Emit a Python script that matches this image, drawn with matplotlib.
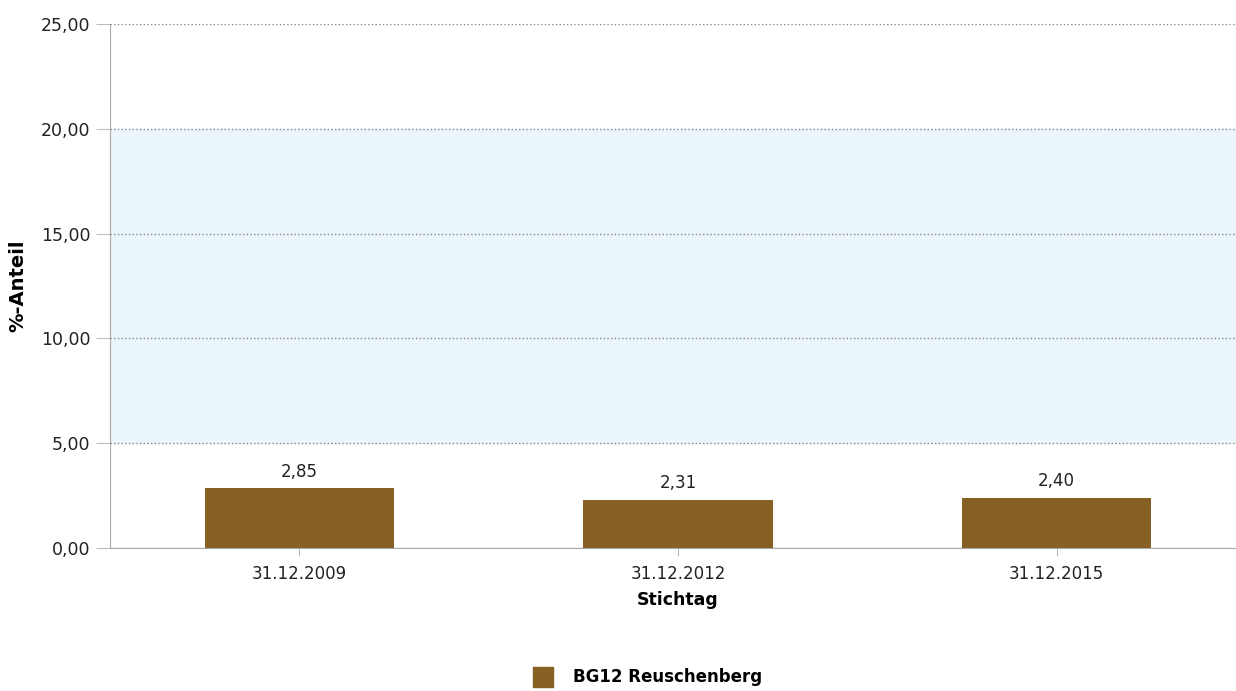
import matplotlib.pyplot as plt
from matplotlib.patches import Patch

dates = ['31.12.2009', '31.12.2012', '31.12.2015']
werte = [2.85, 2.31, 2.40]
y_ticks = [0, 5, 10, 15, 20, 25]
series = 'BG12 Reuschenberg'

bar_color = '#876024'
band_color = '#eaf6fb'

fig = plt.figure(figsize=(12.36, 6.91), dpi=100)
ax = fig.add_axes([110 / 1236, 1 - 548 / 691, 1136 / 1236, 524 / 691])

x = range(len(dates))
ax.axhspan(5, 20, color=band_color, zorder=0)
bars = ax.bar(x, werte, width=0.5, color=bar_color, zorder=3)
for xi, v in zip(x, werte):
    ax.text(xi, v + 0.35, f'{v:.2f}'.replace('.', ','), ha='center', va='bottom',
            fontsize=12, color='#222222')

ax.set_xlim(-0.5, 2.5)
ax.set_ylim(0, 25)
ax.set_yticks(y_ticks)
ax.set_yticklabels([f'{t:.2f}'.replace('.', ',') for t in y_ticks], fontsize=12.5, color='#222222')
ax.set_xticks(list(x))
ax.set_xticklabels(dates, fontsize=12, color='#222222')
ax.yaxis.grid(True, linestyle=':', color='#888888', linewidth=1)
ax.set_axisbelow(True)
ax.tick_params(axis='y', length=10, color='#bbbbbb', pad=4)
ax.tick_params(axis='x', length=6, color='#bbbbbb', pad=6)

for s in ['top', 'right']:
    ax.spines[s].set_visible(False)
for s in ['left', 'bottom']:
    ax.spines[s].set_color('#aaaaaa')

ax.set_xlabel('Stichtag', fontsize=12.5, fontweight='bold', labelpad=6)
ax.set_ylabel('%-Anteil', fontsize=14, fontweight='bold', labelpad=10)

fig.legend(handles=[Patch(color=bar_color, label=series)], loc='center',
           bbox_to_anchor=(648 / 1236, 1 - 677 / 691), frameon=False,
           prop={'size': 12, 'weight': 'bold'}, handlelength=1.2, handleheight=1.5,
           handletextpad=1.2)

fig.savefig('out.png', dpi=100)
